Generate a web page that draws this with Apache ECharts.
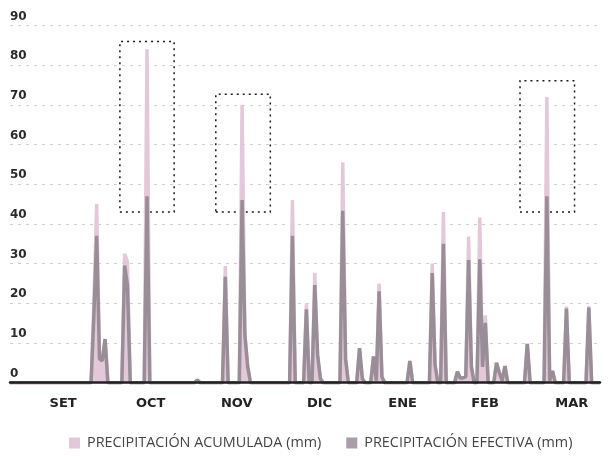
<!DOCTYPE html>
<html>
<head>
<meta charset="utf-8">
<script src="https://cdn.jsdelivr.net/npm/echarts@6/dist/echarts.min.js"></script>
<style>
  html, body { margin: 0; padding: 0; background: #ffffff; }
  #chart { width: 610px; height: 456px; }
</style>
</head>
<body>
<div id="chart"></div>
<script>
// Daily series (day index 0..211 across the season)
const acumulada = [
  0,0,0,0,0,0,0,0,0,0,
  0,0,0,0,0,0,0,0,0,0,
  0,0,0,0,0,0,0,0,0,0,
  20,45,6,5.5,11,0,0,0,0,0,
  0,32.5,30.5,0,0,0,0,0,0,84,
  0,0,0,0,0,0,0,0,0,0,
  0,0,0,0,0,0,0,0.7,0,0,
  0,0,0,0,0,0,0,29.4,0,0,
  0,0,0,70,12,4,0,0,0,0,
  0,0,0,0,0,0,0,0,0,0,
  0,46,0,0,0,0,20,0,0,27.7,
  7,1,0,0,0,0,0,0,0,55.5,
  6,0,0,0,0,8.7,1,0,0,0,
  6.6,0.5,25,1.5,0,0,0,0,0,0,
  0,0,0,5.5,0,0,0,0,0,0,
  0,30,4.5,0,0,43,0,0,0,0,
  2.8,1.2,1.2,1.5,36.8,4,0,0,41.6,4,
  17,0,0,0,5,2.5,0.5,4.2,0,0,
  0,0,0,0,0,9.8,0,0,0,0,
  0,0,72,0.5,3,0,0,0,0,19.2,
  0,0,0,0,0,0,0,19.3,0,0,
  0,0
];
const efectiva = [
  0,0,0,0,0,0,0,0,0,0,
  0,0,0,0,0,0,0,0,0,0,
  0,0,0,0,0,0,0,0,0,0,
  17,37,6,5.5,11,0,0,0,0,0,
  0,29.5,24.5,0,0,0,0,0,0,47,
  0,0,0,0,0,0,0,0,0,0,
  0,0,0,0,0,0,0,0.7,0,0,
  0,0,0,0,0,0,0,26.7,0,0,
  0,0,0,46,12,4,0,0,0,0,
  0,0,0,0,0,0,0,0,0,0,
  0,37,0,0,0,0,18.5,0,0,24.6,
  7,1,0,0,0,0,0,0,0,43.3,
  6,0,0,0,0,8.7,1,0,0,0,
  6.6,0.5,23,1.5,0,0,0,0,0,0,
  0,0,0,5.5,0,0,0,0,0,0,
  0,27.6,4.5,0,0,35,0,0,0,0,
  2.8,1.2,1.2,1.5,30.9,4,0,0,31.1,4,
  15.1,0,0,0,5,2.5,0.5,4.2,0,0,
  0,0,0,0,0,9.8,0,0,0,0,
  0,0,47,0.5,3,0,0,0,0,18.7,
  0,0,0,0,0,0,0,18.9,0,0,
  0,0
];
// Month tick labels and their day positions
const monthLabels = ['SET','OCT','NOV','DIC','ENE','FEB','MAR'];
const monthDays = [19, 50.3, 81.1, 110.7, 140.4, 169.9, 200.9];
const yTicks = [0,10,20,30,40,50,60,70,80,90];
// Highlighted windows (dotted boxes): day range and value range
const boxStart = [39.3, 73.6, 182.4];
const boxEnd = [58.7, 93.1, 201.9];
const boxLow = [43, 43, 43];
const boxHigh = [86, 72.7, 76.1];

const seriesNames = ['PRECIPITACIÓN ACUMULADA (mm)', 'PRECIPITACIÓN EFECTIVA (mm)'];

const toPairs = arr => arr.map((v, i) => [i, v]);
const boxes = boxStart.map((s, i) => [
  { coord: [s, boxLow[i]] },
  { coord: [boxEnd[i], boxHigh[i]] }
]);

const chart = echarts.init(document.getElementById('chart'), null, { renderer: 'canvas' });
chart.setOption({
  animation: false,
  backgroundColor: '#ffffff',
  grid: { left: 10, right: 10, top: 25.5, bottom: 73.3, containLabel: false },
  legend: {
    left: 64, top: 431,
    itemWidth: 11, itemHeight: 11, itemGap: 25,
    icon: 'rect',
    textStyle: { fontFamily: 'Open Sans', fontSize: 14.4, color: '#444', padding: [0,0,0,2] },
    data: seriesNames
  },
  xAxis: {
    type: 'value',
    min: 0, max: acumulada.length - 1,
    z: 10,
    axisLine: { show: true, onZero: false, lineStyle: { color: '#222', width: 2.5 } },
    axisTick: { show: false },
    splitLine: { show: false },
    axisLabel: {
      customValues: monthDays,
      formatter: v => monthLabels[monthDays.indexOf(v)] || '',
      fontFamily: 'DejaVu Sans', fontWeight: 'bold', fontSize: 13, color: '#222',
      margin: 14
    }
  },
  yAxis: {
    type: 'value',
    min: 0, max: 90, interval: 10,
    axisLine: { show: false },
    axisTick: { show: false },
    splitLine: { show: true, lineStyle: { color: '#cfcfcf', width: 1, type: [3, 5] } },
    axisLabel: {
      inside: true, margin: 0,
      verticalAlign: 'bottom',
      padding: [0, 0, 3, 0],
      fontFamily: 'DejaVu Sans', fontWeight: 'bold', fontSize: 12, color: '#2b2b2b',
      formatter: v => yTicks.indexOf(v) >= 0 ? String(v) : ''
    }
  },
  series: [
    {
      name: seriesNames[0],
      type: 'line',
      data: toPairs(acumulada),
      symbol: 'none',
      itemStyle: { color: '#e3c8d9' },
      lineStyle: { color: '#e3c8d9', width: 3.5, join: 'bevel' },
      areaStyle: { color: '#e3c8d9', opacity: 1 },
      z: 2
    },
    {
      name: seriesNames[1],
      type: 'line',
      data: toPairs(efectiva),
      symbol: 'none',
      itemStyle: { color: '#a99ea8' },
      lineStyle: { color: '#998d98', width: 3.5, join: 'bevel' },
      z: 3,
      markArea: {
        silent: true,
        label: { show: false },
        itemStyle: {
          color: 'rgba(0,0,0,0)',
          borderColor: '#1a1a1a',
          borderWidth: 1.5,
          borderType: [2, 4]
        },
        data: boxes
      }
    }
  ]
});
</script>
</body>
</html>
